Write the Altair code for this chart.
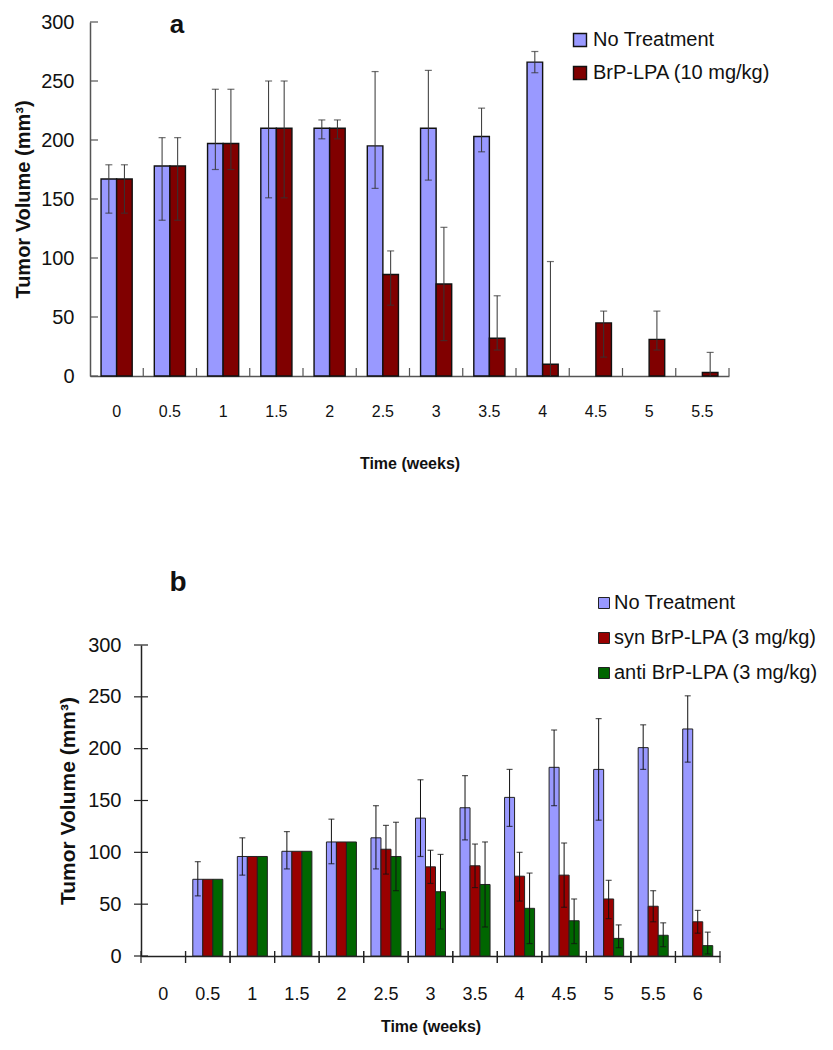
import altair as alt
import pandas as pd

# ---------------- Panel a data ----------------
a_times = ["0", "0.5", "1", "1.5", "2", "2.5", "3", "3.5", "4", "4.5", "5", "5.5"]
a_series = ["No Treatment", "BrP-LPA (10 mg/kg)"]
a_colors = ["#9999FF", "#800000"]

a_no_mean = [167, 178, 197, 210, 210, 195, 210, 203, 266, None, None, None]
a_no_hi = [179, 202, 243, 250, 217, 258, 259, 227, 275, None, None, None]
a_no_lo = [138, 132, 175, 151, 201, 159, 166, 190, 257, None, None, None]

a_br_mean = [167, 178, 197, 210, 210, 86, 78, 32, 10, 45, 31, 3]
a_br_hi = [179, 202, 243, 250, 217, 106, 126, 68, 97, 55, 55, 20]
a_br_lo = [138, 132, 175, 151, 201, 60, 30, 22, 0, 16, 22, 0]

# ---------------- Panel b data ----------------
b_times = ["0", "0.5", "1", "1.5", "2", "2.5", "3", "3.5", "4", "4.5", "5", "5.5", "6"]
b_series = ["No Treatment", "syn BrP-LPA (3 mg/kg)", "anti BrP-LPA (3 mg/kg)"]
b_colors = ["#9999FF", "#990000", "#006600"]

b_no_mean = [None, 74, 96, 101, 110, 114, 133, 143, 153, 182, 180, 201, 219]
b_no_hi = [None, 91, 114, 120, 132, 145, 170, 174, 180, 218, 229, 223, 251]
b_no_lo = [None, 58, 78, 84, 89, 84, 96, 112, 125, 145, 131, 180, 187]

b_syn_mean = [None, 74, 96, 101, 110, 103, 86, 87, 77, 78, 55, 48, 33]
b_syn_hi = [None, None, None, None, None, 126, 102, 108, 100, 109, 73, 63, 44]
b_syn_lo = [None, None, None, None, None, 79, 70, 66, 53, 47, 36, 33, 22]

b_anti_mean = [None, 74, 96, 101, 110, 96, 62, 69, 46, 34, 17, 20, 10]
b_anti_hi = [None, None, None, None, None, 129, 98, 110, 80, 55, 30, 32, 23]
b_anti_lo = [None, None, None, None, None, 63, 26, 28, 12, 12, 8, 9, 2]

y_ticks = [0, 50, 100, 150, 200, 250, 300]

FONT = "Liberation Sans, Arial, sans-serif"


def long_df(times, series, means, his, los):
    rows = []
    for s, m, h, l in zip(series, means, his, los):
        for t, mv, hv, lv in zip(times, m, h, l):
            rows.append(dict(t=t, g=s, v=mv, hi=hv, lo=lv))
    return pd.DataFrame(rows)


dfa = long_df(a_times, a_series, [a_no_mean, a_br_mean], [a_no_hi, a_br_hi], [a_no_lo, a_br_lo])
dfb = long_df(b_times, b_series, [b_no_mean, b_syn_mean, b_anti_mean],
              [b_no_hi, b_syn_hi, b_anti_hi], [b_no_lo, b_syn_lo, b_anti_lo])

# ================= Panel a =================
WA, HA = 639, 354
ax_a_x = alt.Axis(title="Time (weeks)", labelAngle=0, ticks=False, grid=False,
                  labelPadding=27, titlePadding=36, labelFont=FONT, labelFontSize=16,
                  titleFont=FONT, titleFontSize=16, titleFontWeight="bold",
                  domainColor="#555555", domainWidth=1.5, labelColor="#111111", titleColor="#111111")
ax_a_y = alt.Axis(title="Tumor Volume (mm³)", values=y_ticks, ticks=False, grid=False,
                  labelPadding=16, titlePadding=7, labelFont=FONT, labelFontSize=20,
                  titleFont=FONT, titleFontSize=20, titleFontWeight="bold",
                  domainColor="#555555", domainWidth=1.5, labelColor="#111111", titleColor="#111111")
sx_a = alt.Scale(domain=a_times, paddingInner=0, paddingOuter=0)
sy_a = alt.Scale(domain=[0, 300], nice=False)
so_a = alt.Scale(domain=a_series, paddingInner=0, paddingOuter=0.71)


def xa(field="t", **kw):
    return alt.X(f"{field}:N", sort=a_times, scale=sx_a, axis=ax_a_x, **kw)


def ya(field):
    return alt.Y(f"{field}:Q", scale=sy_a, axis=ax_a_y)


xo_a = alt.XOffset("g:N", sort=a_series, scale=so_a)

bars_a = alt.Chart(dfa.dropna(subset=["v"])).mark_bar(stroke="#111111", strokeWidth=1.4).encode(
    x=xa(), xOffset=xo_a, y=ya("v"),
    color=alt.Color("g:N", sort=a_series, scale=alt.Scale(domain=a_series, range=a_colors),
                    legend=alt.Legend(orient="none", legendX=480, legendY=8, title=None,
                                      symbolType="square", symbolSize=169,
                                      symbolStrokeColor="#111111", symbolStrokeWidth=1.4,
                                      labelFont=FONT, labelFontSize=20, labelColor="#111111",
                                      labelLimit=0, labelOffset=3, rowPadding=13, padding=0,
                                      symbolOffset=0)),
)
err_df_a = dfa.dropna(subset=["hi"])
err_a = alt.Chart(err_df_a).mark_rule(color="#333333", strokeWidth=1).encode(
    x=xa(), xOffset=xo_a, y=ya("lo"), y2="hi:Q")
cap_hi_a = alt.Chart(err_df_a).mark_tick(color="#333333", thickness=1.2, size=7).encode(
    x=xa(), xOffset=xo_a, y=ya("hi"))
cap_lo_a = alt.Chart(err_df_a[err_df_a["lo"] > 0]).mark_tick(color="#333333", thickness=1.2, size=7).encode(
    x=xa(), xOffset=xo_a, y=ya("lo"))
ytick_a = alt.Chart(pd.DataFrame({"v": y_ticks})).mark_rule(color="#555555", strokeWidth=1.2).encode(
    y=ya("v"), x=alt.value(0), x2=alt.value(8))
xtick_a = alt.Chart(pd.DataFrame({"t": a_times})).mark_rule(color="#555555", strokeWidth=1.2).encode(
    x=xa(bandPosition=1), y=alt.value(HA - 8), y2=alt.value(HA))
letter_a = alt.Chart(pd.DataFrame({"s": ["a"]})).mark_text(
    font=FONT, fontSize=26, fontWeight="bold", align="center", baseline="alphabetic", color="#111111"
).encode(text="s:N", x=alt.value(87), y=alt.value(11))

chart_a = alt.layer(bars_a, err_a, cap_hi_a, cap_lo_a, ytick_a, xtick_a, letter_a).properties(
    width=WA, height=HA)

# ================= Panel b =================
WB, HB = 630, 311
XB0 = 51
ax_b_x = alt.Axis(title="Time (weeks)", labelAngle=0, ticks=False, grid=False,
                  labelPadding=29, titlePadding=15, labelFont=FONT, labelFontSize=18,
                  titleFont=FONT, titleFontSize=16, titleFontWeight="bold",
                  domainColor="#222222", domainWidth=1.5, labelColor="#111111", titleColor="#111111")
ax_b_y = alt.Axis(title="Tumor Volume (mm³)", values=y_ticks, ticks=False, grid=False, offset=-XB0,
                  labelPadding=20, titlePadding=9, labelFont=FONT, labelFontSize=20,
                  titleFont=FONT, titleFontSize=21, titleFontWeight="bold",
                  domainColor="#222222", domainWidth=1.5, labelColor="#111111", titleColor="#111111")
sx_b = alt.Scale(domain=b_times, paddingInner=0, paddingOuter=0, range=[XB0, WB])
sy_b = alt.Scale(domain=[0, 300], nice=False)
so_b = alt.Scale(domain=b_series, paddingInner=0, paddingOuter=0.725)


def xb(field="t", **kw):
    return alt.X(f"{field}:N", sort=b_times, scale=sx_b, axis=ax_b_x, **kw)


def yb(field):
    return alt.Y(f"{field}:Q", scale=sy_b, axis=ax_b_y)


xo_b = alt.XOffset("g:N", sort=b_series, scale=so_b)

bars_b = alt.Chart(dfb.dropna(subset=["v"])).mark_bar(stroke="#222222", strokeWidth=1).encode(
    x=xb(), xOffset=xo_b, y=yb("v"),
    color=alt.Color("g:N", sort=b_series, scale=alt.Scale(domain=b_series, range=b_colors),
                    legend=alt.Legend(orient="none", legendX=504, legendY=-52, title=None,
                                      symbolType="square", symbolSize=121,
                                      symbolStrokeColor="#222222", symbolStrokeWidth=1,
                                      labelFont=FONT, labelFontSize=20, labelColor="#111111",
                                      labelLimit=0, labelOffset=0, rowPadding=15, padding=0,
                                      symbolOffset=0)),
)
err_df_b = dfb.dropna(subset=["hi"])
err_b = alt.Chart(err_df_b).mark_rule(color="#111111", strokeWidth=1).encode(
    x=xb(), xOffset=xo_b, y=yb("lo"), y2="hi:Q")
cap_hi_b = alt.Chart(err_df_b).mark_tick(color="#111111", thickness=1.2, size=6).encode(
    x=xb(), xOffset=xo_b, y=yb("hi"))
cap_lo_b = alt.Chart(err_df_b).mark_tick(color="#111111", thickness=1.2, size=6).encode(
    x=xb(), xOffset=xo_b, y=yb("lo"))
ytick_b = alt.Chart(pd.DataFrame({"v": y_ticks})).mark_rule(color="#222222", strokeWidth=1.2).encode(
    y=yb("v"), x=alt.value(XB0 - 7), x2=alt.value(XB0 + 7))
xtick_b0 = alt.Chart(pd.DataFrame({"t": b_times})).mark_rule(color="#222222", strokeWidth=1.2).encode(
    x=xb(bandPosition=0), y=alt.value(HB - 5), y2=alt.value(HB + 7))
xtick_b1 = alt.Chart(pd.DataFrame({"t": b_times})).mark_rule(color="#222222", strokeWidth=1.2).encode(
    x=xb(bandPosition=1), y=alt.value(HB - 5), y2=alt.value(HB + 7))
letter_b = alt.Chart(pd.DataFrame({"s": ["b"]})).mark_text(
    font=FONT, fontSize=28, fontWeight="bold", align="center", baseline="alphabetic", color="#111111"
).encode(text="s:N", x=alt.value(88), y=alt.value(-54))

chart_b = alt.layer(bars_b, err_b, cap_hi_b, cap_lo_b, ytick_b, xtick_b0, xtick_b1, letter_b).properties(
    width=WB, height=HB)

chart = alt.vconcat(chart_a, chart_b, spacing=98).resolve_scale(
    color="independent", x="independent", y="independent", xOffset="independent"
).resolve_legend(color="independent").configure_view(stroke=None).properties(
    padding={"left": 5, "top": 4, "right": 5, "bottom": 5}, background="white")

chart.save("out.html", embed_options={"renderer": "svg", "actions": False})
